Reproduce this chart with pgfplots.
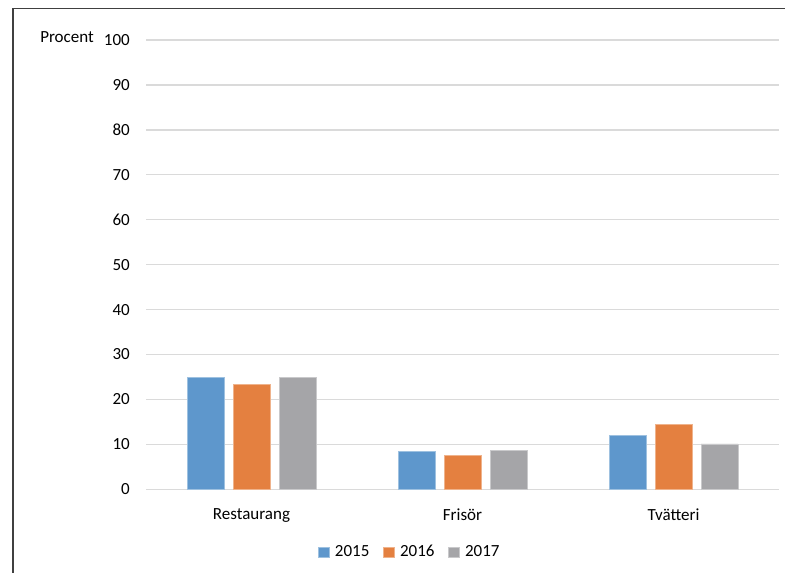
\documentclass[border=0pt]{standalone}
\usepackage{fontspec}
\setmainfont{Carlito}
\usepackage{pgfplots}
\pgfplotsset{compat=1.18}
\definecolor{c15}{HTML}{5E97CC}
\definecolor{c16}{HTML}{E48040}
\definecolor{c17}{HTML}{A5A5A8}
\definecolor{gridc}{HTML}{DADADA}
\definecolor{framec}{HTML}{404040}
\begin{document}
\fontsize{17}{20}\selectfont
\begin{tikzpicture}
\path[use as bounding box] (0pt,0pt) rectangle (785pt,573pt);
\draw[framec, line width=1.5pt] (13pt,0pt) -- (13pt,564.5pt) -- (785pt,564.5pt);
\begin{axis}[
  at={(146pt,83.7pt)}, anchor=south west,
  scale only axis, width=633pt, height=449.3pt,
  xmin=-0.5, xmax=2.5, ymin=0, ymax=100,
  ytick={0,10,...,100},
  xtick={0,1,2}, xticklabels={Restaurang,Frisör,Tvätteri},
  ymajorgrids, grid style={gridc, line width=1.3pt},
  axis line style={draw=none},
  major tick length=0pt,
  tick label style={font=\fontsize{17}{20}\selectfont},
  /pgf/number format/assume math mode=true,
  yticklabel style={anchor=east, inner sep=0pt, xshift=-16pt},
  xticklabel style={anchor=north, inner sep=0pt, yshift=-19pt},
  ybar=9pt, bar width=37pt,
  legend style={at={(0.417,-0.1396)}, anchor=center, draw=none, fill=none,
    legend columns=-1, font=\fontsize{17}{20}\selectfont,
    /tikz/every even column/.append style={column sep=12pt}},
  legend image code/.code={\fill[#1] (0pt,-5pt) rectangle (11pt,5pt);},
  clip=false,
]
\addplot[fill=c15, draw=c15!60!white, line width=0.6pt] coordinates {(0,24.9) (1,8.4) (2,12.0)};
\addplot[fill=c16, draw=c16!60!white, line width=0.6pt] coordinates {(0,23.3) (1,7.5) (2,14.5)};
\addplot[fill=c17, draw=c17!60!white, line width=0.6pt] coordinates {(0,24.9) (1,8.7) (2,10.1)};
\legend{\hspace{3pt}2015,\hspace{3pt}2016,\hspace{3pt}2017}
\end{axis}
\node[anchor=base east, inner sep=0pt] at (94pt,530.5pt) {Procent};
\end{tikzpicture}
\end{document}
